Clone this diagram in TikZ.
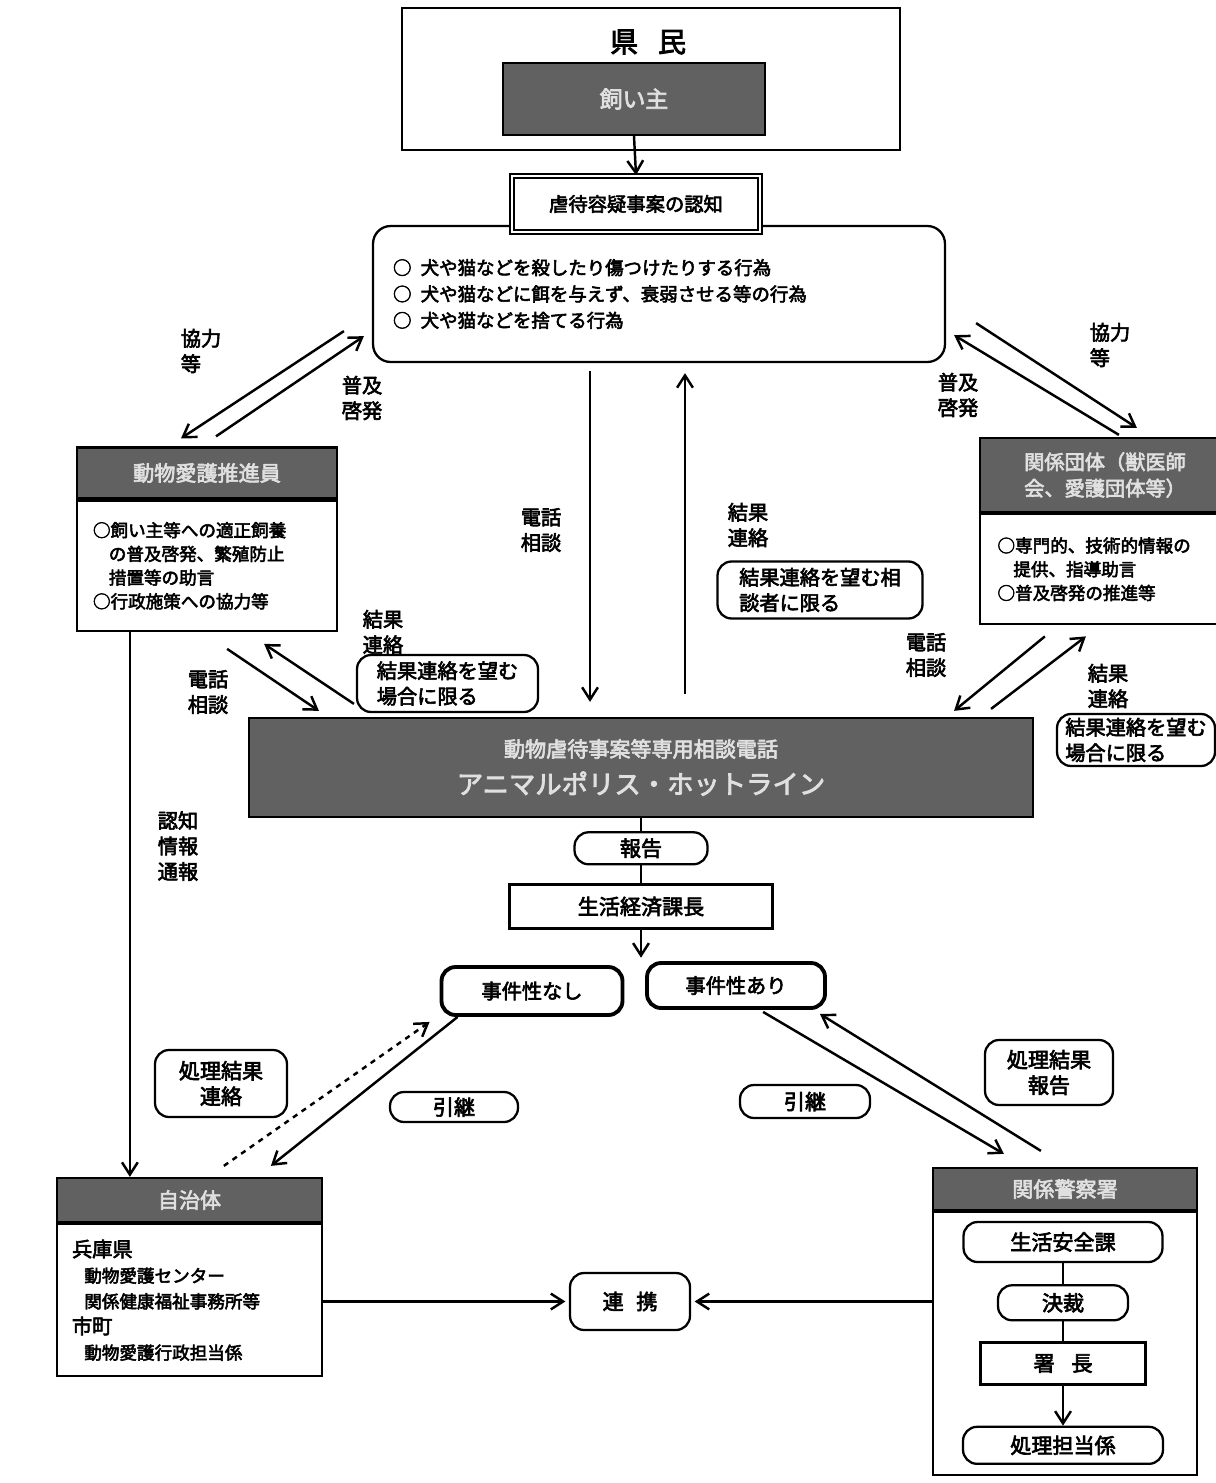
\documentclass[tikz,border=0pt]{standalone}
\usepackage{fontspec}
\setmainfont{Noto Sans CJK JP}[FakeBold=3]
\usetikzlibrary{arrows.meta, shapes, positioning, calc}

\newcommand{\fbody}{\fontsize{10}{13.5}\selectfont}
\newcommand{\flab}{\fontsize{11.5}{14.5}\selectfont}
\newcommand{\fmid}{\fontsize{12}{14.5}\selectfont}

\tikzset{
  box/.style={draw, line width=1.3pt, fill=white, align=center, inner sep=2pt, font=\fmid},
  rbox/.style={box, rounded corners=8pt},
  darkbox/.style={draw, line width=1.3pt, fill=black!62, text=white!88!black,
    align=center, inner sep=2pt, font=\fmid},
  lab/.style={align=left, inner sep=0pt, font=\flab},
  arr/.style={-{Straight Barb[length=7pt, width=9pt]}, line width=1.4pt},
}

\begin{document}
\begin{tikzpicture}[x=0.02cm, y=-0.02cm]
\useasboundingbox[fill=white] (0,0) rectangle (1216,1483);

% kenmin and owner
\node[box, minimum width=9.96cm, minimum height=2.84cm] (kenmin) at (651,79) {};
\node[font=\fontsize{16}{18}\selectfont] (kenmintxt) at (648,42) {県\hspace{0.7em}民};
\node[darkbox, minimum width=5.24cm, minimum height=1.44cm,
  font=\fontsize{13}{15}\selectfont] (owner) at (634,99) {飼い主};

% suspected cases
\node[rbox, rounded corners=10pt, minimum width=11.44cm, minimum height=2.72cm,
  text width=10.64cm, align=left, font=\fontsize{10.5}{15}\selectfont] (acts) at (659,294)
  {○\enspace 犬や猫などを殺したり傷つけたりする行為\\
   ○\enspace 犬や猫などに餌を与えず、衰弱させる等の行為\\
   ○\enspace 犬や猫などを捨てる行為};
\node[box, double, line width=1pt, double distance=1.6pt, minimum width=4.96cm, minimum height=1.12cm,
  font=\fontsize{11}{13}\selectfont] (ninchi) at (636,204) {虐待容疑事案の認知};
\draw[arr] (owner.south) -- (ninchi.north);

% promoters (left)
\node[darkbox, minimum width=5.2cm, minimum height=1.02cm] (suihead) at (207,473) {動物愛護推進員};
\node[box, minimum width=5.2cm, minimum height=2.6cm, text width=4.56cm, align=left,
  font=\fbody, below=0pt of suihead] (suibody)
  {○飼い主等への適正飼養\\
   \hspace*{0.9em}の普及啓発、繁殖防止\\
   \hspace*{0.9em}措置等の助言\\
   ○行政施策への協力等};

% groups (right)
\node[darkbox, minimum width=5cm, minimum height=1.48cm, font=\fontsize{11.5}{15}\selectfont]
  (danhead) at (1105,475) {関係団体（獣医師\\会、愛護団体等）};
\node[box, minimum width=5cm, minimum height=2.2cm, text width=4.3cm, align=left,
  font=\fbody, below=0pt of danhead] (danbody)
  {○専門的、技術的情報の\\
   \hspace*{0.9em}提供、指導助言\\
   ○普及啓発の推進等};

% hotline
\node[darkbox, minimum width=15.68cm, minimum height=1.98cm,
  font=\fontsize{15}{21}\selectfont] (hotline) at (641,767.5)
  {{\fontsize{12}{15}\selectfont 動物虐待事案等専用相談電話}\\アニマルポリス・ホットライン};

% arrows at the top
\draw[arr] ($(acts.south west)+(-28,-32)$) -- ($(suihead.north)+(-26,-8)$);
\draw[arr] ($(suihead.north)+(9,-10)$) -- ($(acts.south west)+(-8,-27)$);
\draw[arr] ($(acts.south east)+(30,-40)$) -- ($(danhead.north west)+(158,-9)$);
\draw[arr] ($(danhead.north west)+(140,-2)$) -- ($(acts.south east)+(8,-28)$);
\node[lab] (kyoL) at (201,351) {協力\\等};
\node[lab] (fukyuL) at (362,398) {普及\\啓発};
\node[lab] (kyoR) at (1110,345) {協力\\等};
\node[lab] (fukyuR) at (958,395) {普及\\啓発};

% centre: phone and results
\coordinate (telC) at ([xshift=-1.38cm]acts.south);
\coordinate (resC) at ([xshift=0.52cm]acts.south);
\draw[arr, shorten <=0.16cm, shorten >=0.3cm] (telC) -- (telC |- hotline.north);
\draw[arr, shorten <=0.46cm, shorten >=0.2cm] (resC |- hotline.north) -- (resC);
\node[lab] (telCtxt) at (541,530) {電話\\相談};
\node[lab] (resCtxt) at (748,525) {結果\\連絡};
\node[rbox, minimum width=4.1cm, minimum height=1.14cm, align=left, font=\flab]
  (resCbox) at (820,590) {結果連絡を望む相\\談者に限る};

% left: phone and results
\draw[arr] ($(suibody.south east)+(-111,17)$) -- ($(hotline.north west)+(71,-6)$);
\draw[arr] ($(hotline.north west)+(106,-13)$) -- ($(suibody.south east)+(-74,12)$);
\node[lab] (telLtxt) at (208,692) {電話\\相談};
\node[lab] (resLtxt) at (383,632) {結果\\連絡};
\node[rbox, minimum width=3.62cm, minimum height=1.14cm, align=left, font=\flab]
  (resLbox) at (447.5,683.5) {結果連絡を望む\\場合に限る};

% right: phone and results
\draw[arr] ($(danbody.south west)+(66,11)$) -- ($(hotline.north east)+(-80,-6)$);
\draw[arr] ($(hotline.north east)+(-43,-8)$) -- ($(danbody.south west)+(107,11)$);
\node[lab] (telRtxt) at (926,655) {電話\\相談};
\node[lab] (resRtxt) at (1108,686) {結果\\連絡};
\node[rbox, minimum width=3.16cm, minimum height=1.04cm, align=left, font=\flab]
  (resRbox) at (1136,740) {結果連絡を望む\\場合に限る};

% report chain
\node[rbox, minimum width=2.66cm, minimum height=0.64cm, inner sep=1pt, below=0.26cm of hotline] (houkoku) {報告};
\node[box, minimum width=5.26cm, minimum height=0.88cm, below=0.36cm of houkoku] (kacho) {生活経済課長};
\draw[line width=1.4pt] (hotline.south) -- (houkoku.north) (houkoku.south) -- (kacho.north);
\coordinate (split) at ([yshift=-0.56cm]kacho.south);
\draw[arr] (kacho.south) -- (split);
\node[rbox, line width=2.2pt, minimum width=3.62cm, minimum height=0.96cm, font=\flab] (nashi) at (532,991) {事件性なし};
\node[rbox, line width=2.2pt, minimum width=3.56cm, minimum height=0.9cm, font=\flab] (ari) at (736,985.5) {事件性あり};

% local government
\node[darkbox, minimum width=5.3cm, minimum height=0.88cm] (jichihead) at (189.5,1200) {自治体};
\node[box, minimum width=5.3cm, minimum height=3.04cm, text width=4.7cm, align=left,
  font=\fontsize{10}{14.6}\selectfont, below=0pt of jichihead] (jichibody)
  {{\fontsize{11.5}{14.6}\selectfont 兵庫県}\\
   \hspace*{0.7em}動物愛護センター\\
   \hspace*{0.7em}関係健康福祉事務所等\\
   {\fontsize{11.5}{14.6}\selectfont 市町}\\
   \hspace*{0.7em}動物愛護行政担当係};
\coordinate (ninfo) at ([xshift=1.08cm]suibody.south west);
\draw[arr] (ninfo) -- (ninfo |- jichihead.north);
\node[lab] (ninfotxt) at (178,846) {認知\\情報\\通報};

% police
\node[darkbox, minimum width=5.28cm, minimum height=0.84cm] (polhead) at (1065,1189) {関係警察署};
\node[box, minimum width=5.28cm, minimum height=5.26cm, below=0pt of polhead] (polbody) {};
\node[rbox, minimum width=3.98cm, minimum height=0.8cm] (seian) at (1063,1242) {生活安全課};
\node[rbox, minimum width=2.6cm, minimum height=0.7cm, below=0.42cm of seian] (kessai) {決裁};
\node[box, minimum width=3.3cm, minimum height=0.84cm, below=0.4cm of kessai] (shocho) {署\hspace{0.8em}長};
\node[rbox, minimum width=4cm, minimum height=0.74cm, below=0.8cm of shocho] (tanto) {処理担当係};
\draw[line width=1.4pt] (seian) -- (kessai) -- (shocho);
\draw[arr] (shocho) -- (tanto);

% hand-over and results
\node[rbox, minimum width=2.64cm, minimum height=1.34cm] (shoriL) at (221,1083.5) {処理結果\\連絡};
\node[rbox, minimum width=2.56cm, minimum height=1.3cm] (shoriR) at (1049,1072.5) {処理結果\\報告};
\node[rbox, minimum width=2.56cm, minimum height=0.6cm, inner sep=1pt] (hikiL) at (454,1107) {引継};
\node[rbox, minimum width=2.6cm, minimum height=0.66cm, inner sep=1pt] (hikiR) at (805,1101.5) {引継};
\draw[arr, dashed] ($(jichihead.north west)+(168,-11)$) -- ($(nashi.south west)+(-10,5)$);
\draw[arr] ($(nashi.south west)+(18,0)$) -- ($(jichihead.north west)+(215,-11)$);
\draw[arr] ($(ari.south west)+(118,2)$) -- ($(polhead.north west)+(72,-13)$);
\draw[arr] ($(polhead.north west)+(109,-16)$) -- ($(ari.south east)+(-7,4)$);

% cooperation
\node[rbox, minimum width=2.4cm, minimum height=1.14cm] (renkei) at (630,1301.5) {連\hspace{0.6em}携};
\draw[arr, shorten >=2pt] (jichibody.east |- renkei.west) -- (renkei.west);
\draw[arr, shorten >=2pt] (polbody.west |- renkei.east) -- (renkei.east);
\end{tikzpicture}
\end{document}
